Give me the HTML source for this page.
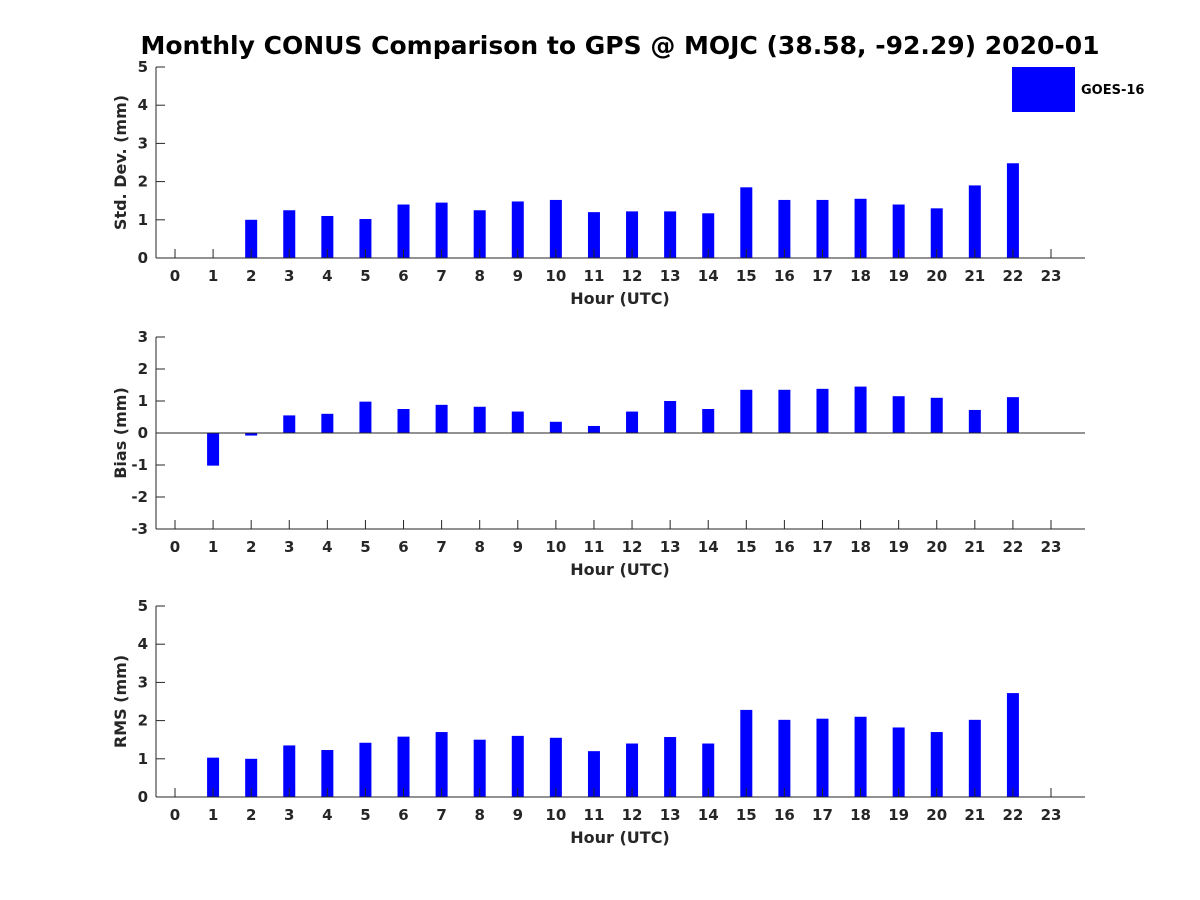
<!DOCTYPE html>
<html><head><meta charset="utf-8"><style>
html,body{margin:0;padding:0;background:#fff;}
svg{display:block;font-family:"DejaVu Sans","Liberation Sans",sans-serif;}
</style></head><body>
<svg id="chart" width="1200" height="900" viewBox="0 0 1200 900">
<text x="620" y="54" text-anchor="middle" font-size="25" font-weight="bold" fill="#000">Monthly CONUS Comparison to GPS @ MOJC (38.58, -92.29) 2020-01</text>
<g>
<rect x="1012" y="67" width="63" height="45" fill="#0000ff"/>
<text x="1081" y="94" font-size="13" font-weight="bold" fill="#000">GOES-16</text>
</g>
</svg>
<script>
const hours = [0,1,2,3,4,5,6,7,8,9,10,11,12,13,14,15,16,17,18,19,20,21,22,23];
const stdValues = [null,null,1.0,1.25,1.1,1.02,1.4,1.45,1.25,1.48,1.52,1.2,1.22,1.22,1.17,1.85,1.52,1.52,1.55,1.4,1.3,1.9,2.48,null];
const biasValues = [null,-1.02,-0.08,0.55,0.6,0.98,0.75,0.88,0.82,0.67,0.35,0.22,0.67,1.0,0.75,1.35,1.35,1.38,1.45,1.15,1.1,0.72,1.12,null];
const rmsValues = [null,1.03,1.0,1.35,1.23,1.42,1.58,1.7,1.5,1.6,1.55,1.2,1.4,1.57,1.4,2.28,2.02,2.05,2.1,1.82,1.7,2.02,2.72,null];
const stdTicks = [0,1,2,3,4,5];
const biasTicks = [-3,-2,-1,0,1,2,3];
const rmsTicks = [0,1,2,3,4,5];

const NS = "http://www.w3.org/2000/svg";
const svg = document.getElementById('chart');
function mk(tag, attrs, parent){
  const e = document.createElementNS(NS, tag);
  for (const k in attrs) e.setAttribute(k, attrs[k]);
  (parent||svg).appendChild(e);
  return e;
}
const L = 156, R = 1085;
const xScale = h => 175 + h * (1051 - 175) / 23;

function panel(name, top, bottom, ticks, values, ylabel){
  const g = mk('g', {});
  
  
  const ymin = ticks[0], ymax = ticks[ticks.length-1];
  const yScale = v => bottom - (v - ymin) / (ymax - ymin) * (bottom - top);
  const y0 = yScale(Math.max(0, ymin));
  values.forEach((v, i) => {
    if (v === null) return;
    const yv = yScale(v);
    const r = mk('rect', {x: xScale(hours[i]) - 6, y: Math.min(yv, y0), width: 12, height: Math.max(1, Math.abs(yv - y0)), fill: '#0000ff'}, g);
    
    
  });
  const xa = mk('line', {x1: L, x2: R, y1: bottom, y2: bottom, stroke: '#262626', 'stroke-width': 1}, g);
  
  
  if (ymin < 0) {
    const zl = mk('line', {x1: L, x2: R, y1: y0, y2: y0, stroke: '#262626', 'stroke-width': 1}, g);
    
    
  }
  const ya = mk('line', {x1: L, x2: L, y1: top, y2: bottom, stroke: '#262626', 'stroke-width': 1}, g);
  
  
  hours.forEach(h => {
    const x = xScale(h);
    mk('line', {x1: x, x2: x, y1: bottom, y2: bottom - 9, stroke: '#262626'}, g);
    const t = mk('text', {x: x, y: bottom + 23, 'text-anchor': 'middle', 'font-size': 15, 'font-weight': 'bold', fill: '#262626'}, g);
    t.textContent = h;
    
    
  });
  ticks.forEach(v => {
    const y = yScale(v);
    mk('line', {x1: L, x2: L + 9, y1: y, y2: y, stroke: '#262626'}, g);
    const t = mk('text', {x: L - 8, y: y + 5, 'text-anchor': 'end', 'font-size': 15, 'font-weight': 'bold', fill: '#262626'}, g);
    t.textContent = v;
    
    
  });
  const xl = mk('text', {x: 620, y: bottom + 46, 'text-anchor': 'middle', 'font-size': 16, 'font-weight': 'bold', fill: '#262626'}, g);
  xl.textContent = 'Hour (UTC)';
  
  
  const cy = (top + bottom) / 2;
  const yl = mk('text', {x: 126, y: cy, 'text-anchor': 'middle', 'font-size': 16, 'font-weight': 'bold', fill: '#262626', transform: 'rotate(-90 126 ' + cy + ')'}, g);
  yl.textContent = ylabel;
  
  
}
panel('std-dev', 67, 258, stdTicks, stdValues, 'Std. Dev. (mm)');
panel('bias', 337, 529, biasTicks, biasValues, 'Bias (mm)');
panel('rms', 606, 797, rmsTicks, rmsValues, 'RMS (mm)');
</script>
</body></html>
